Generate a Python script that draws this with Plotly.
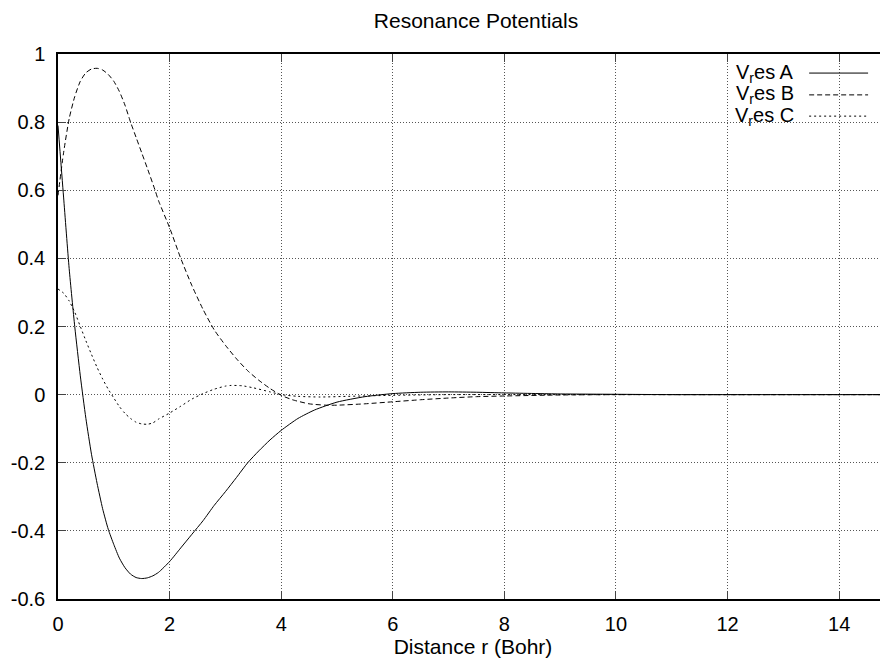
import plotly.graph_objects as go

# values
r_a = [0, 0.1, 0.2, 0.3, 0.4, 0.5, 0.6, 0.7, 0.8, 0.9, 1.0, 1.1, 1.2, 1.3, 1.4, 1.5,
       1.6, 1.7, 1.8, 2.0, 2.2, 2.4, 2.6, 2.8, 3.0, 3.2, 3.4, 3.6, 3.8, 4.0, 4.3,
       4.6, 5.0, 5.5, 6.0, 6.5, 7.0, 7.5, 8.0, 9.0, 10.0, 11.0, 13.0, 15.0]
v_a = [0.79, 0.58, 0.37, 0.2, 0.055, -0.07, -0.175, -0.26, -0.335, -0.395, -0.44,
       -0.48, -0.508, -0.527, -0.537, -0.54, -0.538, -0.532, -0.522, -0.49, -0.45,
       -0.41, -0.37, -0.325, -0.285, -0.243, -0.2, -0.165, -0.133, -0.105, -0.07,
       -0.045, -0.022, -0.006, 0.003, 0.007, 0.008, 0.007, 0.005, 0.002, 0.001,
       0.0, 0.0, 0.0]

r_b = [0, 0.1, 0.2, 0.3, 0.4, 0.5, 0.6, 0.7, 0.8, 0.9, 1.0, 1.1, 1.2, 1.3, 1.4,
       1.5, 1.6, 1.74, 1.8, 2.0, 2.2, 2.4, 2.6, 2.8, 3.0, 3.2, 3.4, 3.6, 3.8, 4.0,
       4.2, 4.5, 4.8, 5.0, 5.5, 6.0, 6.5, 7.0, 7.5, 8.0, 9.0, 10.0, 12.0, 15.0]
v_b = [0.585, 0.71, 0.81, 0.875, 0.92, 0.945, 0.956, 0.958, 0.953, 0.94, 0.92,
       0.89, 0.85, 0.80, 0.755, 0.71, 0.665, 0.6, 0.57, 0.49, 0.40, 0.32, 0.25,
       0.19, 0.145, 0.105, 0.07, 0.042, 0.018, -0.002, -0.015, -0.027, -0.031,
       -0.031, -0.027, -0.021, -0.015, -0.01, -0.006, -0.004, -0.001, 0.0, 0.0,
       0.0]

r_c = [0, 0.1, 0.2, 0.3, 0.4, 0.5, 0.6, 0.7, 0.8, 0.9, 1.0, 1.1, 1.2, 1.3, 1.4,
       1.5, 1.6, 1.7, 1.8, 2.0, 2.2, 2.4, 2.6, 2.8, 3.0, 3.1, 3.3, 3.5, 3.8, 4.0,
       4.3, 4.7, 5.2, 6.0, 7.0, 9.0, 12.0, 15.0]
v_c = [0.31, 0.298, 0.275, 0.242, 0.2, 0.158, 0.118, 0.08, 0.046, 0.016, -0.01,
       -0.035, -0.055, -0.07, -0.081, -0.086, -0.087, -0.083, -0.072, -0.054,
       -0.034, -0.013, 0.003, 0.016, 0.025, 0.027, 0.026, 0.02, 0.008, 0.0,
       -0.005, -0.007, -0.005, -0.002, 0.0, 0.0, 0.0, 0.0]

names = ["V<sub>r</sub>es A", "V<sub>r</sub>es B", "V<sub>r</sub>es C"]
dashes = ["solid", "5px,3px", "2px,3px"]

x_ticks = [0, 2, 4, 6, 8, 10, 12, 14]
y_ticks = [-0.6, -0.4, -0.2, 0, 0.2, 0.4, 0.6, 0.8, 1]
y_labels = ["-0.6", "-0.4", "-0.2", "0", "0.2", "0.4", "0.6", "0.8", "1"]

font = "Liberation Sans, Arial, sans-serif"

fig = go.Figure()
series = [(r_a, v_a), (r_b, v_b), (r_c, v_c)]
for (xs, ys), name, dash in zip(series, names, dashes):
    fig.add_scatter(x=xs, y=ys, mode="lines", name=name,
                    line=dict(color="black", width=1, dash=dash,
                              shape="spline", smoothing=0.6))

# gnuplot-style key: label on the left, line sample on the right
key_y = [0.965, 0.925, 0.886]
for name, dash, ky in zip(names, dashes, key_y):
    fig.add_annotation(x=0.889, y=ky, xref="paper", yref="paper", text=name,
                       showarrow=False, xanchor="right", yanchor="middle",
                       font=dict(size=20, color="black", family=font))
    fig.add_shape(type="line", xref="paper", yref="paper", x0=0.905, x1=0.976,
                  y0=ky, y1=ky, line=dict(color="black", width=1, dash=dash))

# page body has an 8px margin, so the figure is 8px smaller and shifted
fig.update_layout(
    width=880, height=656,
    margin=dict(l=50, r=0, t=46, b=65),
    plot_bgcolor="white", paper_bgcolor="white",
    showlegend=False,
    font=dict(family=font, size=20, color="black"),
    title=dict(text="Resonance Potentials", x=(476 - 58) / 830, xref="paper",
               y=1 - 13 / 656, yref="container", xanchor="center",
               yanchor="middle", font=dict(size=21)),
)
fig.update_xaxes(range=[0, 14.875], tickvals=x_ticks, ticks="inside", ticklen=8,
                 showline=True, linecolor="black", linewidth=1.5, mirror="ticks",
                 showgrid=True, gridcolor="#555", griddash="1px,2px", gridwidth=1,
                 zeroline=False, ticklabelstandoff=6,
                 title=dict(text="Distance r (Bohr)", standoff=6,
                            font=dict(size=21)))
fig.update_yaxes(range=[-0.6, 1], tickvals=y_ticks, ticktext=y_labels,
                 ticks="inside", ticklen=8, showline=True, linecolor="black",
                 linewidth=1.5, showgrid=True, gridcolor="#555",
                 griddash="1px,2px", gridwidth=1, zeroline=False,
                 ticklabelstandoff=7)

fig.write_html("out.html")
